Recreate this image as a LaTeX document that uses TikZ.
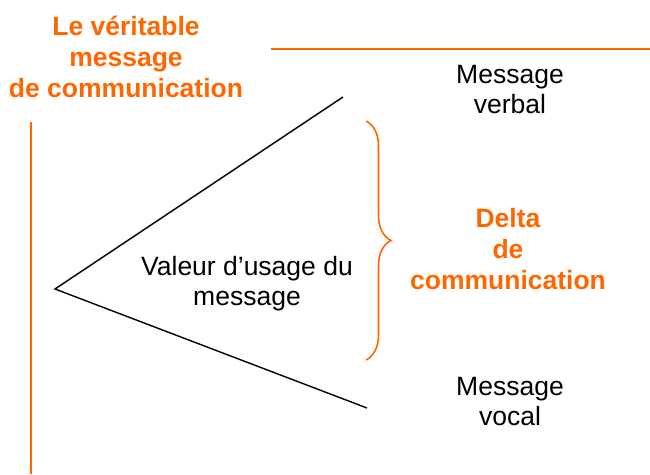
\documentclass[tikz,border=0pt]{standalone}
\usepackage{fontspec}
\setmainfont{Liberation Sans}
\usepackage{tikz}
\usetikzlibrary{decorations.pathreplacing}
\definecolor{orng}{RGB}{255,102,0}
\tikzset{edge/.style={line width=1.4pt, black}}
\tikzset{orangeline/.style={line width=2pt, orng}}
\tikzset{bracket/.style={line width=1.6pt, orng, decorate, decoration={brace, amplitude=25pt}}}
\tikzset{txt/.style={align=center, inner sep=0pt, anchor=base, font=\fontsize{26.5}{30}\selectfont}}
\tikzset{orangetxt/.style={txt, text=orng, font=\fontsize{26.5}{31}\selectfont\bfseries}}

\begin{document}
\begin{tikzpicture}
[x=1pt, y=-1pt]
\useasboundingbox (0,0) rectangle (650,474);
%orange frame lines
\coordinate (l1) at (31,122);
\coordinate (l2) at (31,474);
\coordinate (h1) at (271,49);
\coordinate (h2) at (650,49);
\draw[orangeline] (l1)--(l2);
\draw[orangeline] (h1)--(h2);
%angle
\coordinate (apex) at (55,289);
\coordinate (up) at (343,97);
\coordinate (down) at (367,408);
\draw[edge] (up)--(apex)--(down);
%brace
\coordinate (b1) at (366,121);
\coordinate (b2) at (366,360);
\draw[bracket] (b1)--(b2);
%texts (anchored at the baseline of the last line)
\node (title) at (126,97)[orangetxt]{Le véritable\\message\\de communication};
\node (verbal) at (510,113)[txt]{Message\\verbal};
\node (usage) at (247,305)[txt]{Valeur d’usage du\\message};
\node (delta) at (508,289)[orangetxt]{Delta\\de\\communication};
\node (vocal) at (510,425)[txt]{Message\\vocal};
\end{tikzpicture}
\end{document}
